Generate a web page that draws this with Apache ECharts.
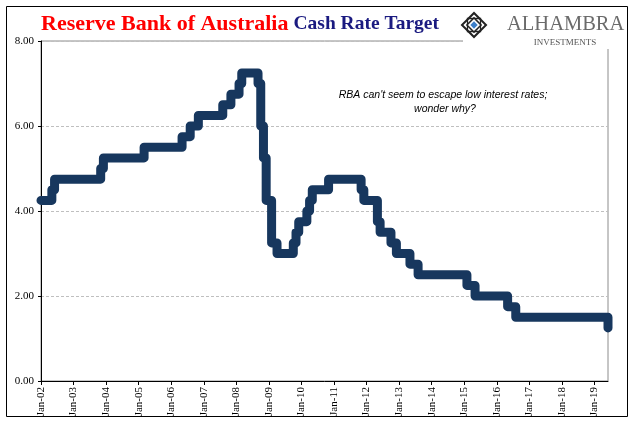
<!DOCTYPE html>
<html><head><meta charset="utf-8">
<script src="https://cdn.jsdelivr.net/npm/echarts@6/dist/echarts.min.js"></script>
<style>html,body{margin:0;padding:0;background:#fff}#c{width:641px;height:421px}</style>
</head><body><div id="c"></div>
<script>
// Tick label years and month names
var years = ['02','03','04','05','06','07','08','09','10','11','12','13','14','15','16','17','18','19'];
var months = ['Jan','Feb','Mar','Apr','May','Jun','Jul','Aug','Sep','Oct','Nov','Dec'];
// Cash rate target (%), monthly, Jan-02 .. Jun-19
var rate2002 = [4.25,4.25,4.25,4.25,4.5,4.75,4.75,4.75,4.75,4.75,4.75,4.75];
var rate2003 = [4.75,4.75,4.75,4.75,4.75,4.75,4.75,4.75,4.75,4.75,5.0,5.25];
var rate2004 = [5.25,5.25,5.25,5.25,5.25,5.25,5.25,5.25,5.25,5.25,5.25,5.25];
var rate2005 = [5.25,5.25,5.5,5.5,5.5,5.5,5.5,5.5,5.5,5.5,5.5,5.5];
var rate2006 = [5.5,5.5,5.5,5.5,5.75,5.75,5.75,6.0,6.0,6.0,6.25,6.25];
var rate2007 = [6.25,6.25,6.25,6.25,6.25,6.25,6.25,6.5,6.5,6.5,6.75,6.75];
var rate2008 = [6.75,7.0,7.25,7.25,7.25,7.25,7.25,7.25,7.0,6.0,5.25,4.25];
var rate2009 = [4.25,3.25,3.25,3.0,3.0,3.0,3.0,3.0,3.0,3.25,3.5,3.75];
var rate2010 = [3.75,3.75,4.0,4.25,4.5,4.5,4.5,4.5,4.5,4.5,4.75,4.75];
var rate2011 = [4.75,4.75,4.75,4.75,4.75,4.75,4.75,4.75,4.75,4.75,4.5,4.25];
var rate2012 = [4.25,4.25,4.25,4.25,3.75,3.5,3.5,3.5,3.5,3.25,3.25,3.0];
var rate2013 = [3.0,3.0,3.0,3.0,2.75,2.75,2.75,2.5,2.5,2.5,2.5,2.5];
var rate2014 = [2.5,2.5,2.5,2.5,2.5,2.5,2.5,2.5,2.5,2.5,2.5,2.5];
var rate2015 = [2.5,2.25,2.25,2.25,2.0,2.0,2.0,2.0,2.0,2.0,2.0,2.0];
var rate2016 = [2.0,2.0,2.0,2.0,1.75,1.75,1.75,1.5,1.5,1.5,1.5,1.5];
var rate2017 = [1.5,1.5,1.5,1.5,1.5,1.5,1.5,1.5,1.5,1.5,1.5,1.5];
var rate2018 = [1.5,1.5,1.5,1.5,1.5,1.5,1.5,1.5,1.5,1.5,1.5,1.5];
var rate2019 = [1.5,1.5,1.5,1.5,1.5,1.25];
var yTicks = [0, 2, 4, 6, 8];

var rates = [].concat(rate2002,rate2003,rate2004,rate2005,rate2006,rate2007,rate2008,rate2009,
  rate2010,rate2011,rate2012,rate2013,rate2014,rate2015,rate2016,rate2017,rate2018,rate2019);
var cats = [];
years.forEach(function(y){ months.forEach(function(m){ cats.push(m + '-' + y); }); });
cats = cats.slice(0, rates.length);

var chart = echarts.init(document.getElementById('c'));
var serif = 'Liberation Serif, Times New Roman, serif';
chart.setOption({
  animation: false,
  title: {
    left: 41, top: 13, padding: 0,
    text: '{a|Reserve Bank of Australia} {b|Cash Rate Target}',
    textStyle: {
      rich: {
        a: {fontFamily: serif, fontSize: 22, fontWeight: 'bold', color: '#ff0000'},
        b: {fontFamily: serif, fontSize: 19.5, color: '#1a1a80'}
      }
    }
  },
  grid: {left: 41, right: 33, top: 41, bottom: 40, show: true, borderColor: '#8c8c8c', borderWidth: 1},
  xAxis: {
    type: 'category', data: cats, boundaryGap: false,
    axisLine: {lineStyle: {color: '#000', width: 1}},
    axisTick: {show: true, length: 4, interval: function(i){ return i % 12 === 0; }, lineStyle: {color: '#000'}},
    axisLabel: {interval: function(i){ return i % 12 === 0; }, rotate: 90, margin: 6,
      fontFamily: serif, fontSize: 11, color: '#000'},
    splitLine: {show: false}
  },
  yAxis: {
    type: 'value', min: yTicks[0], max: yTicks[yTicks.length-1], interval: 2,
    axisLine: {show: true, lineStyle: {color: '#000', width: 1}},
    axisTick: {show: true, length: 3, lineStyle: {color: '#000'}},
    axisLabel: {formatter: function(v){ return v.toFixed(2); }, fontFamily: serif, fontSize: 11, color: '#000', margin: 7},
    splitLine: {show: true, lineStyle: {color: '#bfbfbf', type: [3,2], width: 1}}
  },
  series: [{
    type: 'line', data: rates, symbol: 'none', showSymbol: false, step: 'end',
    lineStyle: {color: '#17375e', width: 9, cap: 'round', join: 'round'},
    z: 5
  }],
  graphic: [
    {type: 'rect', shape: {x: 6.5, y: 6.5, width: 621, height: 410}, style: {fill: 'none', stroke: '#000', lineWidth: 1}, z: 100, silent: true},
    {type: 'rect', shape: {x: 463, y: 8, width: 164, height: 41}, style: {fill: '#fff'}, z: 50, silent: true},
    {type: 'text', x: 443, y: 90, style: {text: "RBA can't seem to escape low interest rates;", fontFamily: 'Liberation Sans, Arial, sans-serif', fontStyle: 'italic', fontSize: 10.5, fill: '#000', textAlign: 'center'}, z: 60},
    {type: 'text', x: 445, y: 104, style: {text: 'wonder why?', fontFamily: 'Liberation Sans, Arial, sans-serif', fontStyle: 'italic', fontSize: 10.5, fill: '#000', textAlign: 'center'}, z: 60},
    // logo
    {type: 'rect', x: 474, y: 25, rotation: Math.PI/4, shape: {x: -8.5, y: -8.5, width: 17, height: 17}, style: {fill: '#fff', stroke: '#222', lineWidth: 2}, z: 61},
    {type: 'rect', x: 474, y: 25, shape: {x: -6.5, y: -6.5, width: 13, height: 13}, style: {fill: 'none', stroke: '#222', lineWidth: 1.3}, z: 62},
    {type: 'rect', x: 474, y: 25, rotation: Math.PI/4, shape: {x: -5, y: -5, width: 10, height: 10}, style: {fill: '#fff', stroke: '#222', lineWidth: 1.5}, z: 63},
    {type: 'rect', x: 474, y: 25, rotation: Math.PI/4, shape: {x: -2.6, y: -2.6, width: 5.2, height: 5.2}, style: {fill: '#3c7ec8'}, z: 64},
    {type: 'text', x: 507, y: 14, style: {text: 'ALHAMBRA', fontFamily: serif, fontSize: 20.5, fill: '#6b6b6b'}, z: 60},
    {type: 'text', x: 565, y: 38, style: {text: 'INVESTMENTS', fontFamily: serif, fontSize: 9, fill: '#555', textAlign: 'center'}, z: 60}
  ]
});
</script></body></html>
